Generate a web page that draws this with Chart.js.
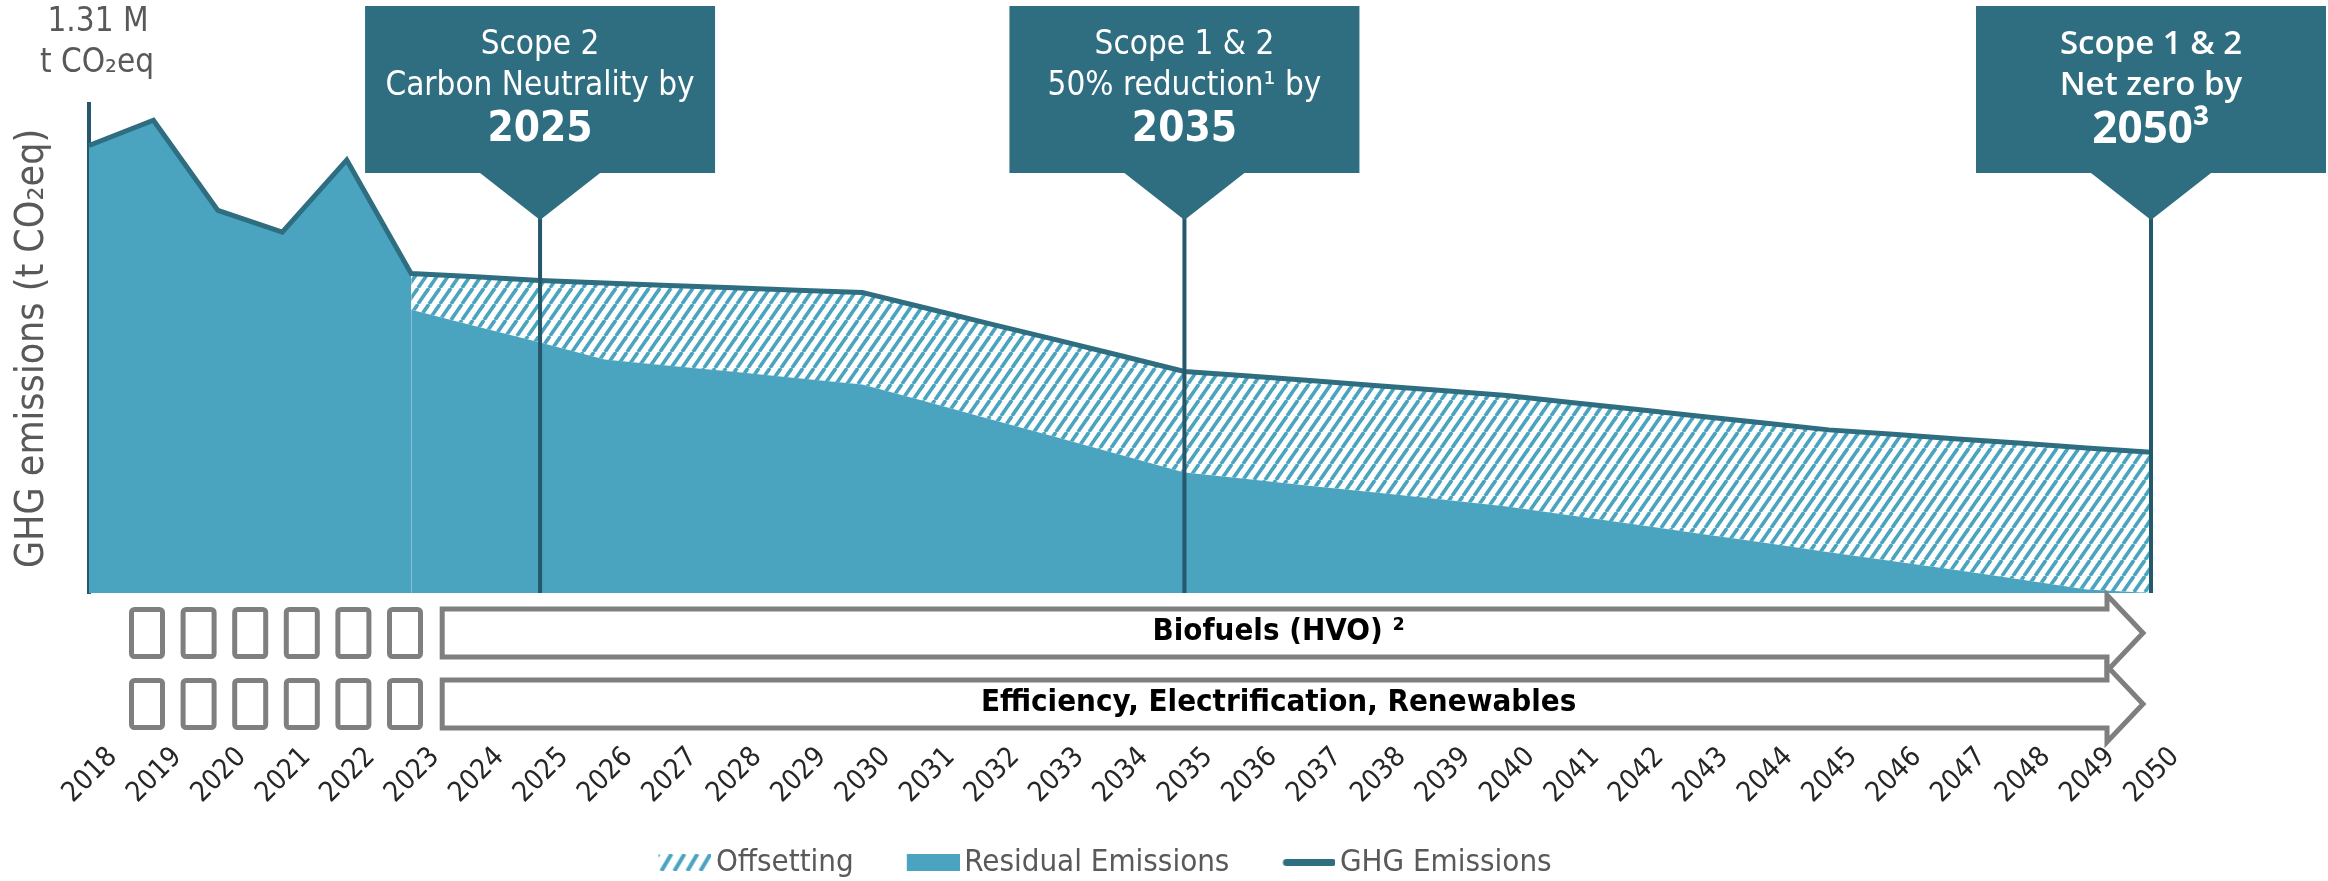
<!DOCTYPE html>
<html>
<head>
<meta charset="utf-8">
<script src="https://cdn.jsdelivr.net/npm/chart.js"></script>
<style>
  html, body { margin: 0; padding: 0; background: #fff; overflow: hidden; }
  #wrap { width: 2328px; height: 881px; }
</style>
</head>
<body>
<div id="wrap"><canvas id="emissions" width="2328" height="881"></canvas></div>
<script>
const years = ['2018', '2019', '2020', '2021', '2022', '2023', '2024', '2025', '2026', '2027', '2028',
  '2029', '2030', '2031', '2032', '2033', '2034', '2035', '2036', '2037', '2038', '2039', '2040',
  '2041', '2042', '2043', '2044', '2045', '2046', '2047', '2048', '2049', '2050'];

// M t CO2eq
const ghgEmissions = [1.24, 1.31, 1.06, 1.00, 1.20, 0.885, 0.876, 0.866, 0.859, 0.852, 0.846,
  0.839, 0.833, 0.789, 0.745, 0.702, 0.658, 0.614, 0.601, 0.588, 0.574, 0.561, 0.547,
  0.528, 0.509, 0.490, 0.471, 0.452, 0.440, 0.427, 0.415, 0.402, 0.390];

// residual after offsetting, from 2023 on
const residualEmissions = [null, null, null, null, null, 0.785, 0.739, 0.694, 0.647, 0.630, 0.613,
  0.595, 0.578, 0.530, 0.481, 0.432, 0.383, 0.334, 0.315, 0.296, 0.278, 0.259, 0.240,
  0.215, 0.190, 0.164, 0.139, 0.113, 0.088, 0.063, 0.037, 0.010, 0];

const offsetFrom = '2023';
const axisMax = 1.355;

const milestones = [
  { year: '2025', lines: ['Scope 2', 'Carbon Neutrality by'], big: '2025', wide: false },
  { year: '2035', lines: ['Scope 1 & 2', '50% reduction¹ by'], big: '2035', wide: false },
  { year: '2050', lines: ['Scope 1 & 2', 'Net zero by'], big: '2050³', wide: true }
];
const levers = ['Biofuels (HVO) ²', 'Efficiency, Electrification, Renewables'];

const TEAL = '#4aa3bf';
const DARK = '#2e6e80';
const AXIS = '#24586a';
const GREY = '#595959';
const ARROW = '#7f7f7f';
const COND = "'DejaVu Sans Condensed', 'Liberation Sans Narrow', sans-serif";
const OPEN = "'Open Sans', 'Noto Sans', sans-serif";

// diagonal stripes, one period wide per step, steeper than 45 degrees
function stripes(w, h, step, rise, lw) {
  const c = document.createElement('canvas');
  c.width = w; c.height = h;
  const g = c.getContext('2d');
  g.strokeStyle = TEAL;
  g.lineWidth = lw;
  const run = step * h / rise;
  for (let x = -run - step; x < w + step; x += step) {
    g.beginPath(); g.moveTo(x, h); g.lineTo(x + run, 0); g.stroke();
  }
  return c;
}

const hatch = document.createElement('canvas').getContext('2d').createPattern(stripes(11, 16, 11, 16, 3.6), 'repeat');

// legend swatches: blank lead-in on the left, swatch on the right
const LEAD = 33;
function swatch(draw) {
  const c = document.createElement('canvas');
  c.width = LEAD + 42 + 22; c.height = 17;
  draw(c.getContext('2d'), c.width - 53);
  return c;
}
const swatches = [
  swatch((g, x0) => g.drawImage(stripes(53, 17, 13, 22, 4), x0, 0)),
  swatch((g, x0) => { g.fillStyle = TEAL; g.fillRect(x0, 0, 53, 17); }),
  swatch((g, x0) => {
    g.strokeStyle = DARK; g.lineWidth = 7; g.lineCap = 'round';
    g.beginPath(); g.moveTo(x0 + 4, 8.5); g.lineTo(x0 + 50, 8.5); g.stroke();
  })
];

const start = years.indexOf(offsetFrom);
const offsetTop = ghgEmissions.map((v, i) => i >= start ? v : null);
const history = ghgEmissions.map((v, i) => i <= start ? v : null);

function arrowShape(ctx, x0, x1, cy, half, headHalf, headLen) {
  ctx.beginPath();
  ctx.moveTo(x0, cy - half);
  ctx.lineTo(x1, cy - half);
  ctx.lineTo(x1, cy - headHalf);
  ctx.lineTo(x1 + headLen, cy);
  ctx.lineTo(x1, cy + headHalf);
  ctx.lineTo(x1, cy + half);
  ctx.lineTo(x0, cy + half);
  ctx.closePath();
  ctx.fillStyle = '#fff';
  ctx.fill();
  ctx.stroke();
}

const annotate = {
  id: 'annotate',
  afterDatasetsDraw(chart) {
    const { ctx, chartArea, scales: { x } } = chart;
    ctx.save();
    ctx.strokeStyle = AXIS;
    ctx.lineWidth = 4;
    milestones.forEach(m => {
      const px = x.getPixelForValue(years.indexOf(m.year));
      ctx.beginPath();
      ctx.moveTo(px, 216);
      ctx.lineTo(px, chartArea.bottom);
      ctx.stroke();
    });
    ctx.restore();
  },
  afterDraw(chart) {
    const { ctx, chartArea, scales: { x } } = chart;
    ctx.save();

    // unit label above the axis
    ctx.fillStyle = GREY;
    ctx.textAlign = 'center';
    ctx.textBaseline = 'middle';
    ctx.font = '33px ' + COND;
    ctx.fillText('1.31 M', chartArea.left + 9, 22);
    ctx.fillText('t CO₂eq', chartArea.left + 8, 63);

    // milestone call-outs
    milestones.forEach(m => {
      const px = x.getPixelForValue(years.indexOf(m.year));
      ctx.fillStyle = DARK;
      ctx.beginPath();
      ctx.moveTo(px - 175, 6);
      ctx.lineTo(px + 175, 6);
      ctx.lineTo(px + 175, 173);
      ctx.lineTo(px + 60, 173);
      ctx.lineTo(px, 220);
      ctx.lineTo(px - 60, 173);
      ctx.lineTo(px - 175, 173);
      ctx.closePath();
      ctx.fill();
      ctx.fillStyle = '#fff';
      ctx.font = m.wide ? '600 33px ' + OPEN : '33px ' + COND;
      ctx.fillText(m.lines[0], px, 45);
      ctx.fillText(m.lines[1], px, 86);
      ctx.font = m.wide ? 'bold 44px ' + OPEN : 'bold 42px ' + COND;
      ctx.fillText(m.big, px, 130);
    });

    // lever arrows
    const x0 = x.getPixelForValue(start) + 31;
    const x1 = x.getPixelForValue(years.length - 1) - 44;
    const rows = [633, 704];
    ctx.strokeStyle = ARROW;
    ctx.lineWidth = 5;
    rows.forEach(cy => {
      for (let i = 0; i < 6; i++) {
        ctx.beginPath();
        ctx.roundRect(chartArea.left + 42.5 + i * 51.6, cy - 23.5, 31, 47, 3);
        ctx.stroke();
      }
      arrowShape(ctx, x0, x1, cy, 24, 38, 36);
    });
    ctx.fillStyle = '#000';
    ctx.font = 'bold 31px ' + COND;
    rows.forEach((cy, r) => {
      ctx.fillText(levers[r], (x0 + x1) / 2 + 4, cy - 1);
    });
    ctx.restore();
  }
};

new Chart(document.getElementById('emissions'), {
  type: 'line',
  data: {
    labels: years,
    datasets: [{
      label: 'Offsetting',
      data: offsetTop,
      fill: 1,
      backgroundColor: hatch,
      borderColor: 'transparent',
      borderWidth: 0,
      pointRadius: 0,
      order: 1
    }, {
      label: 'Residual Emissions',
      data: residualEmissions,
      fill: 'origin',
      backgroundColor: TEAL,
      borderColor: 'transparent',
      borderWidth: 0,
      pointRadius: 0,
      order: 2
    }, {
      label: 'GHG Emissions',
      data: ghgEmissions,
      fill: false,
      borderColor: DARK,
      backgroundColor: DARK,
      borderWidth: 5,
      pointRadius: 0,
      order: 0
    }, {
      label: 'history',
      data: history,
      fill: 'origin',
      backgroundColor: TEAL,
      borderColor: 'transparent',
      borderWidth: 0,
      pointRadius: 0,
      order: 3
    }]
  },
  options: {
    responsive: false,
    animation: false,
    devicePixelRatio: 1,
    layout: { padding: { top: 104, right: 151, bottom: -7, left: 0 } },
    plugins: {
      tooltip: { enabled: false },
      legend: {
        position: 'bottom',
        labels: {
          usePointStyle: true,
          pointStyleWidth: LEAD + 42,
          boxHeight: 17,
          padding: 20,
          color: GREY,
          font: { family: COND, size: 31 },
          filter: item => item.datasetIndex < 3,
          sort: (a, b) => a.datasetIndex - b.datasetIndex,
          generateLabels(chart) {
            const items = Chart.defaults.plugins.legend.labels.generateLabels(chart);
            items.forEach(it => { it.pointStyle = swatches[it.datasetIndex]; });
            return items;
          }
        }
      }
    },
    scales: {
      x: {
        grid: { display: false, drawTicks: false },
        border: { display: false },
        ticks: {
          autoSkip: false,
          minRotation: 45,
          maxRotation: 45,
          padding: 148,
          labelOffset: 24,
          color: '#262626',
          font: { family: COND, size: 28 }
        },
        afterFit(scale) {
          scale.height = 234;
          scale.paddingLeft = 0;
          scale.paddingRight = 0;
        }
      },
      y: {
        min: 0,
        max: axisMax,
        grid: { display: false, drawTicks: false },
        border: { display: true, color: AXIS, width: 4 },
        ticks: { display: false },
        title: {
          display: true,
          text: 'GHG emissions (t CO₂eq)',
          color: GREY,
          font: { family: COND, size: 39 },
          padding: { top: 9, bottom: 0 }
        },
        afterFit(scale) { scale.width = 89; }
      },
      // empty right-hand gutter
      y2: {
        position: 'right',
        grid: { display: false, drawTicks: false },
        border: { display: false },
        ticks: { display: false },
        afterFit(scale) { scale.width = 26; }
      }
    }
  },
  plugins: [annotate]
});
</script>
</body>
</html>
